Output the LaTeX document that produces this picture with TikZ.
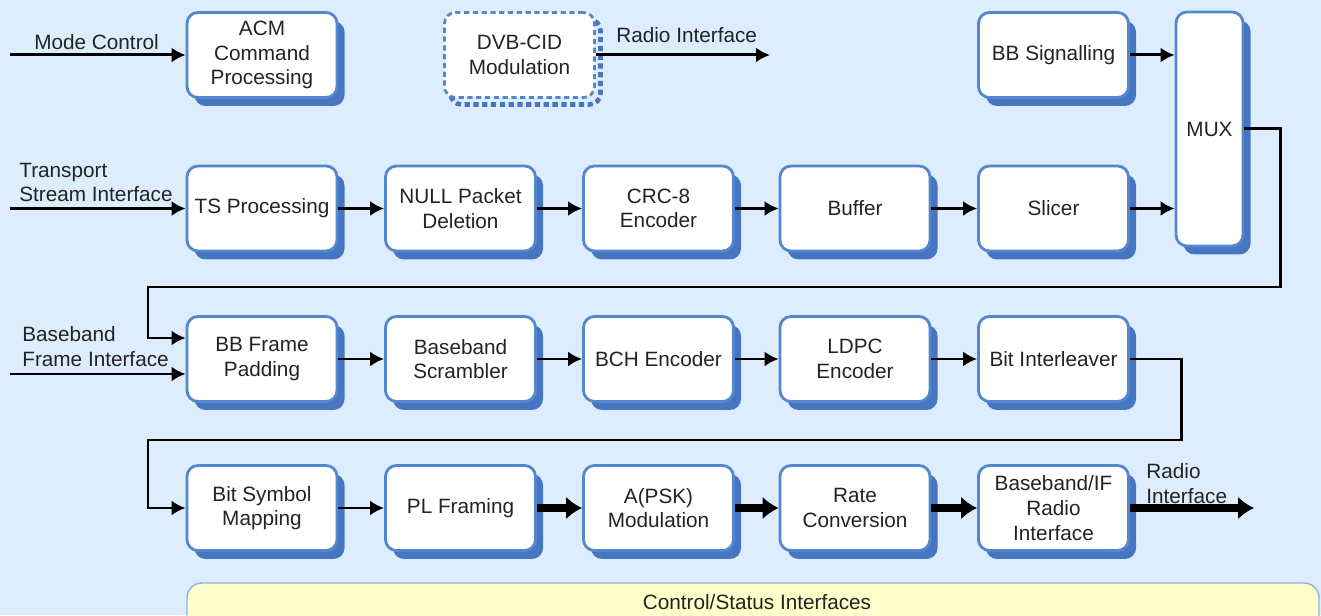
\documentclass[tikz,border=0pt]{standalone}
\usepackage{fontspec}
\setmainfont{Liberation Sans}
\usetikzlibrary{arrows.meta,shadows}

\definecolor{bgblue}{RGB}{221,237,253}
\definecolor{boxline}{RGB}{84,136,206}
\definecolor{boxshade}{RGB}{70,118,194}
\definecolor{barfill}{RGB}{255,255,204}
\definecolor{barline}{RGB}{140,180,226}
\definecolor{inktext}{RGB}{35,35,35}

\tikzset{
  txt/.style={font=\fontsize{11.8}{14}\selectfont, text=inktext},
  blockbase/.style={txt, fill=white, draw=boxline, line width=1.6pt, rounded corners=0.22cm,
                    minimum width=3cm, minimum height=1.7cm, align=center, inner sep=1pt},
  block/.style={blockbase,
                drop shadow={shadow xshift=0.15cm, shadow yshift=-0.17cm, fill=boxshade, opacity=1}},
  dashblock/.style={blockbase, dash pattern=on 3pt off 2pt,
                drop shadow={shadow xshift=0.12cm, shadow yshift=-0.14cm, fill=none, draw=boxshade,
                             line width=2.6pt, dash pattern=on 3pt off 2pt, opacity=1}},
  sidetext/.style={txt, align=left, inner sep=0pt},
  flow/.style={line width=1.7pt, -{Latex[length=0.28cm,width=0.3cm]}},
  boldflow/.style={line width=4pt, -{Latex[length=0.32cm,width=0.46cm]}}
}

\begin{document}
\begin{tikzpicture}
    \useasboundingbox (0,0) rectangle (26.42,12.3);
    \clip (0,0) rectangle (26.42,12.3);
    \fill[bgblue] (0,0) rectangle (26.42,12.3);

    % top row
    \node[block] (acm) at (5.24,11.2) {ACM\\Command\\Processing};
    \node[dashblock] (dvb) at (10.39,11.2) {DVB-CID\\Modulation};
    \node[block] (bbsig) at (21.07,11.2) {BB Signalling};
    \node[block, minimum width=1.34cm, minimum height=4.68cm] (mux) at (24.19,9.72) {MUX};

    % transport stream row
    \node[block] (ts) at (5.24,8.13) {TS Processing};
    \node[block] (null) at (9.21,8.13) {NULL Packet\\Deletion};
    \node[block] (crc) at (13.17,8.13) {CRC-8\\Encoder};
    \node[block] (buffer) at (17.1,8.13) {Buffer};
    \node[block] (slicer) at (21.07,8.13) {Slicer};

    % baseband frame row
    \node[block] (bbpad) at (5.24,5.12) {BB Frame\\Padding};
    \node[block] (scram) at (9.21,5.12) {Baseband\\Scrambler};
    \node[block] (bch) at (13.17,5.12) {BCH Encoder};
    \node[block] (ldpc) at (17.1,5.12) {LDPC\\Encoder};
    \node[block] (bitint) at (21.07,5.12) {Bit Interleaver};

    % physical layer row
    \node[block] (bitsym) at (5.24,2.14) {Bit Symbol\\Mapping};
    \node[block] (plframe) at (9.21,2.14) {PL Framing};
    \node[block] (apsk) at (13.17,2.14) {A(PSK)\\Modulation};
    \node[block] (rate) at (17.1,2.14) {Rate\\Conversion};
    \node[block] (bbif) at (21.07,2.14) {Baseband/IF\\Radio\\Interface};

    % interface texts
    \node[sidetext, anchor=west] (modetxt) at (0.68,11.46) {Mode Control};
    \node[sidetext, anchor=west] (tstxt) at (0.38,8.65) {Transport\\Stream Interface};
    \node[sidetext, anchor=west] (bbtxt) at (0.44,5.37) {Baseband\\Frame Interface};
    \node[sidetext, anchor=west] (radiotxt) at (12.32,11.6) {Radio Interface};
    \node[sidetext, anchor=west] (iftxt) at (22.92,2.63) {Radio\\Interface};

    \coordinate (modein) at (0.2,11.2);
    \coordinate (tsin) at (0.2,8.13);
    \coordinate (bbin) at (0.2,4.82);
    \coordinate (radioout) at (15.4,11.2);
    \coordinate (ifout) at (25.08,2.14);
    \coordinate (loopa) at (2.96,6.56);
    \coordinate (loopb) at (2.96,3.5);

    % connectors
    \draw[flow] (modein) -- (acm);
    \draw[flow] (dvb) -- (radioout);
    \draw[flow] (bbsig) -- (bbsig -| mux.west);
    \draw[flow] (tsin) -- (ts);
    \draw[flow] (ts) -- (null);
    \draw[flow] (null) -- (crc);
    \draw[flow] (crc) -- (buffer);
    \draw[flow] (buffer) -- (slicer);
    \draw[flow] (slicer) -- (slicer -| mux.west);
    \draw[flow] (mux.east) -- ++(0.72,0) |- (loopa) |- ([yshift=0.42cm]bbpad.west);
    \draw[flow] (bbin) -- (bbin -| bbpad.west);
    \draw[flow] (bbpad) -- (scram);
    \draw[flow] (scram) -- (bch);
    \draw[flow] (bch) -- (ldpc);
    \draw[flow] (ldpc) -- (bitint);
    \draw[flow] (bitint.east) -- ++(1.04,0) |- (loopb) |- (bitsym.west);
    \draw[flow] (bitsym) -- (plframe);
    \draw[boldflow] (plframe) -- (apsk);
    \draw[boldflow] (apsk) -- (rate);
    \draw[boldflow] (rate) -- (bbif);
    \draw[boldflow] (bbif) -- (ifout);

    % control bar
    \draw[fill=barfill, draw=barline, line width=0.8pt, rounded corners=0.3cm] (3.74,0.64) rectangle (26.38,-0.6);
    \node[txt] (ctrl) at (15.14,0.26) {Control/Status Interfaces};
\end{tikzpicture}
\end{document}
